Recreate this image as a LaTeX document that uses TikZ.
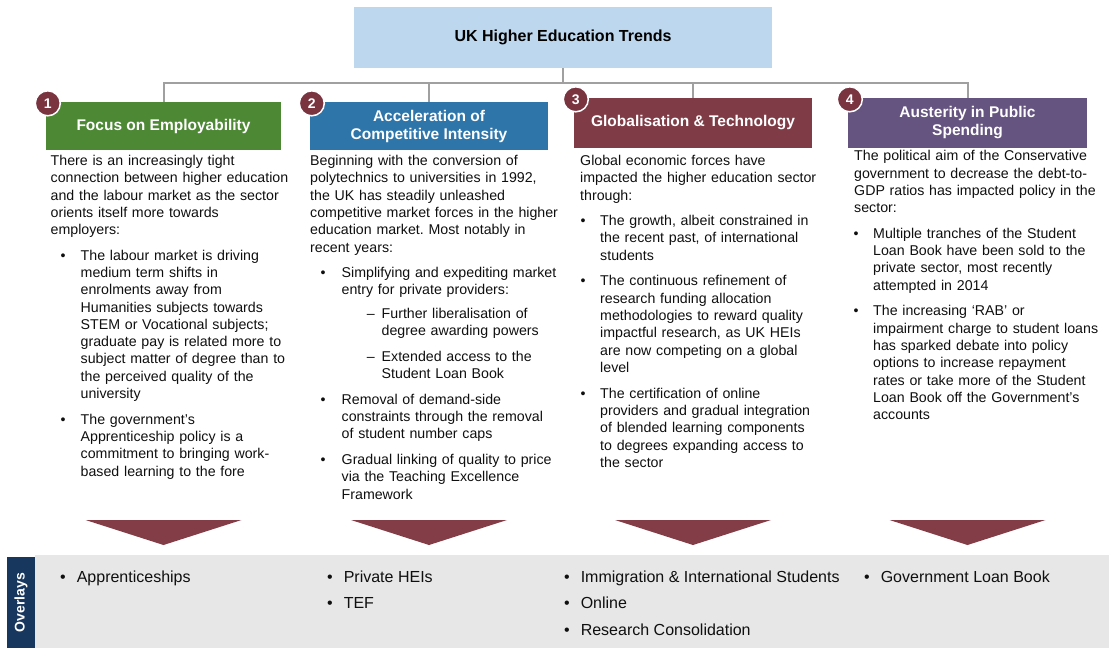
\documentclass[tikz,border=0pt]{standalone}
\usepackage{fontspec}
\setmainfont{Liberation Sans}
\usepackage{xcolor}
\usepackage{enumitem}
\usetikzlibrary{positioning,calc}

\definecolor{titleblue}{RGB}{189,215,238}
\definecolor{headgreen}{RGB}{77,137,52}
\definecolor{headblue}{RGB}{46,117,170}
\definecolor{headred}{RGB}{128,60,70}
\definecolor{headpurple}{RGB}{101,83,128}
\definecolor{dotred}{RGB}{122,52,64}
\definecolor{dropred}{RGB}{131,61,71}
\definecolor{linegray}{RGB}{160,160,160}
\definecolor{overlaygray}{RGB}{231,231,231}
\definecolor{navy}{RGB}{23,55,94}
\definecolor{bodytext}{RGB}{15,15,15}

\newcommand{\bodyfont}{\fontsize{14.2}{17.3}\selectfont}
\newcommand{\headfont}{\fontsize{15.5}{18}\selectfont\bfseries}

\setlist[itemize]{label=\textbullet, topsep=8pt, partopsep=0pt, parsep=0pt, itemsep=8.5pt}
\setlist[itemize,2]{label=\textendash, topsep=6pt}
\frenchspacing

\begin{document}
\begin{tikzpicture}[
						x=1pt, y=-1pt,
						title_box/.style={
							fill=titleblue,
							minimum width=418pt, minimum height=61pt,
							font=\fontsize{16}{19}\selectfont\bfseries
						},
						head/.style={
							minimum height=48pt, inner sep=0pt,
							text=white, font=\headfont, align=center
						},
						num_dot/.style={
							circle, fill=dotred, draw=white, line width=1.5pt,
							minimum size=25pt, inner sep=0pt,
							text=white, font=\fontsize{14}{14}\selectfont\bfseries
						},
						body/.style={
							anchor=north west, inner sep=0pt, text width=255pt,
							font=\bodyfont, text=bodytext
						},
						conn/.style={
							draw=linegray, line width=2pt
						},
						drop/.style={
							fill=dropred
						},
						ov_item/.style={
							anchor=base west, inner sep=0pt,
							font=\fontsize{16}{19}\selectfont, text=bodytext
						},
						ov_tag/.style={
							fill=navy, rotate=90, inner sep=0pt,
							minimum width=91pt, minimum height=28pt,
							text=white, font=\fontsize{14}{14}\selectfont\bfseries
						}
						]
						\useasboundingbox (0,0) rectangle (1109,648);
						
						% === TIÊU ĐỀ ===
						\node[title_box] (title) at (563,37.5) {UK Higher Education Trends};
						
						% === 4 Ô XU HƯỚNG ===
						\node[head, fill=headgreen, minimum width=235pt] (h1) at (163.5,126) {Focus on Employability};
						\node[head, fill=headblue, minimum width=238pt] (h2) at (429,126) {Acceleration of\\Competitive Intensity};
						\node[head, fill=headred, minimum width=238pt, minimum height=50pt] (h3) at (693,123) {Globalisation \& Technology};
						\node[head, fill=headpurple, minimum width=239pt, minimum height=50pt] (h4) at (967.5,123) {Austerity in Public\\Spending};
						
						% Đường nối
						\coordinate (bus) at (0,83);
						\draw[conn] (title.south) -- (title.south |- bus);
						\draw[conn] (h1.north) -- (h1.north |- bus) -- (h4.north |- bus) -- (h4.north);
						\foreach \h in {h2,h3} {
							\draw[conn] (\h.north) -- (\h.north |- bus);
						}
						
						% Số thứ tự
						\foreach \i in {1,...,4} {
							\node[num_dot] (n\i) at ([shift={(2,1.5)}]h\i.north west) {\i};
						}
						
						% === NỘI DUNG CÁC CỘT ===
						\node[body] (c1) at (50.5,153.3) {\strut There is an increasingly tight\\
							connection between higher education\\
							and the labour market as the sector\\
							orients itself more towards\\
							employers:
							\begin{itemize}[leftmargin=30pt, labelsep=15pt]
								\item The labour market is driving\\ medium term shifts in\\ enrolments away from\\ Humanities subjects towards\\ STEM or Vocational subjects;\\ graduate pay is related more to\\ subject matter of degree than to\\ the perceived quality of the\\ university
								\item The government’s\\ Apprenticeship policy is a\\ commitment to bringing work-\\ based learning to the fore
							\end{itemize}};
						
						\node[body] (c2) at (310,153.3) {\strut Beginning with the conversion of\\
							polytechnics to universities in 1992,\\
							the UK has steadily unleashed\\
							competitive market forces in the higher\\
							education market. Most notably in\\
							recent years:
							\begin{itemize}[leftmargin=31.5pt, labelsep=16pt]
								\item Simplifying and expediting market\\ entry for private providers:
								\begin{itemize}[leftmargin=40pt, labelsep=7pt]
									\item Further liberalisation of\\ degree awarding powers
									\item Extended access to the\\ Student Loan Book
								\end{itemize}
								\item Removal of demand-side\\ constraints through the removal\\ of student number caps
								\item Gradual linking of quality to price\\ via the Teaching Excellence\\ Framework
							\end{itemize}};
						
						\node[body] (c3) at (580,153.3) {\strut Global economic forces have\\
							impacted the higher education sector\\
							through:
							\begin{itemize}[leftmargin=20pt, labelsep=14.5pt]
								\item The growth, albeit constrained in\\ the recent past, of international\\ students
								\item The continuous refinement of\\ research funding allocation\\ methodologies to reward quality\\ impactful research, as UK HEIs\\ are now competing on a global\\ level
								\item The certification of online\\ providers and gradual integration\\ of blended learning components\\ to degrees expanding access to\\ the sector
							\end{itemize}};
						
						\node[body, text width=250pt] (c4) at (854,148.6) {\strut The political aim of the Conservative\\
							government to decrease the debt-to-\\
							GDP ratios has impacted policy in the\\
							sector:
							\begin{itemize}[leftmargin=19pt, labelsep=14.5pt]
								\item Multiple tranches of the Student\\ Loan Book have been sold to the\\ private sector, most recently\\ attempted in 2014
								\item The increasing ‘RAB’ or\\ impairment charge to student loans\\ has sparked debate into policy\\ options to increase repayment\\ rates or take more of the Student\\ Loan Book off the Government’s\\ accounts
							\end{itemize}};
						
						% === MŨI TÊN XUỐNG ===
						\coordinate (droptop) at (0,520);
						\coordinate (droptip) at (0,545);
						\foreach \h in {h1,h2,h3,h4} {
							\fill[drop] (\h.south |- droptop) ++(-78,0) -- ++(156,0) -- (\h.south |- droptip) -- cycle;
						}
						
						% === OVERLAYS ===
						\fill[overlaygray] (35,555) rectangle (1109,648);
						\node[ov_tag] (otag) at (21,602.5) {Overlays};
						
						\node[ov_item] (o1) at (60,582) {\textbullet\hspace{11pt}Apprenticeships};
						\node[ov_item] (o2) at (327,582) {\textbullet\hspace{11pt}Private HEIs};
						\node[ov_item] (o3) at (327,608.5) {\textbullet\hspace{11pt}TEF};
						\node[ov_item] (o4) at (564,582) {\textbullet\hspace{11pt}Immigration \& International Students};
						\node[ov_item] (o5) at (564,608.5) {\textbullet\hspace{11pt}Online};
						\node[ov_item] (o6) at (564,635) {\textbullet\hspace{11pt}Research Consolidation};
						\node[ov_item] (o7) at (864,582) {\textbullet\hspace{11pt}Government Loan Book};
						
					\end{tikzpicture}
\end{document}
